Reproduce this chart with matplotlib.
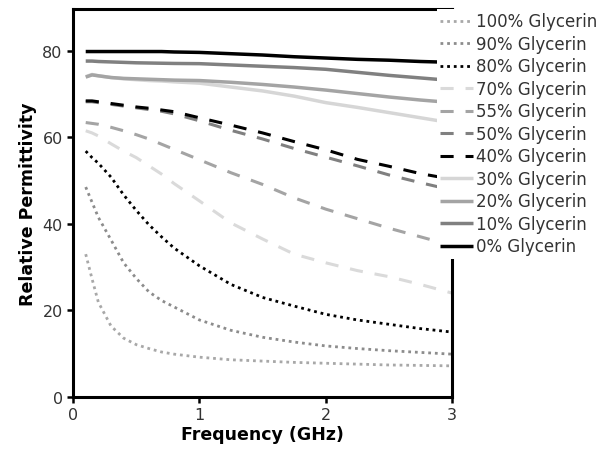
import matplotlib
matplotlib.use("Agg")
import matplotlib.pyplot as plt

FREQ = [0.1, 0.15, 0.2, 0.3, 0.4, 0.5, 0.6, 0.7, 0.8, 1.0, 1.25, 1.5, 1.75, 2.0, 2.25, 2.5, 2.75, 3.0]

LABELS = ["100% Glycerin", "90% Glycerin", "80% Glycerin", "70% Glycerin", "55% Glycerin",
          "50% Glycerin", "40% Glycerin", "30% Glycerin", "20% Glycerin", "10% Glycerin",
          "0% Glycerin"]

G100 = [33.0, 27.3, 21.9, 16.4, 13.6, 12.1, 11.2, 10.4, 9.9, 9.2, 8.6, 8.3, 8.0, 7.8, 7.6, 7.4, 7.3, 7.2]
G90 = [48.5, 45.0, 41.5, 36.3, 31.0, 27.4, 24.3, 22.3, 20.8, 17.8, 15.4, 13.8, 12.7, 11.8, 11.2, 10.7, 10.3, 9.9]
G80 = [56.8, 55.3, 54.0, 50.8, 46.7, 43.1, 39.8, 37.0, 34.4, 30.3, 26.0, 23.0, 21.0, 19.1, 17.8, 16.8, 15.8, 15.0]
G70 = [61.5, 61.0, 60.3, 58.5, 56.8, 55.3, 53.4, 51.5, 49.3, 45.3, 40.2, 36.5, 33.0, 31.0, 29.2, 27.8, 26.0, 24.0]
G55 = [63.4, 63.2, 63.0, 62.3, 61.5, 60.6, 59.6, 58.4, 57.2, 54.8, 51.8, 49.1, 46.0, 43.4, 41.2, 39.0, 37.0, 35.0]
G50 = [68.2, 68.2, 68.0, 67.6, 67.2, 66.8, 66.4, 66.0, 65.4, 63.8, 61.6, 59.6, 57.4, 55.4, 53.4, 51.3, 49.5, 47.8]
G40 = [68.4, 68.4, 68.2, 67.8, 67.4, 67.0, 66.7, 66.3, 65.9, 64.5, 62.8, 61.0, 59.0, 57.1, 54.9, 53.3, 51.6, 50.3]
G30 = [74.0, 74.5, 74.2, 73.8, 73.5, 73.3, 73.1, 73.0, 72.8, 72.5, 71.6, 70.7, 69.5, 68.0, 66.9, 65.7, 64.5, 63.3]
G20 = [73.9, 74.4, 74.2, 73.8, 73.6, 73.5, 73.4, 73.3, 73.2, 73.1, 72.7, 72.2, 71.6, 70.9, 70.1, 69.3, 68.6, 68.0]
G10 = [77.6, 77.6, 77.5, 77.4, 77.3, 77.2, 77.15, 77.1, 77.05, 77.0, 76.7, 76.4, 76.1, 75.7, 75.0, 74.3, 73.7, 73.1]
G0 = [79.8, 79.8, 79.8, 79.8, 79.8, 79.8, 79.8, 79.8, 79.7, 79.6, 79.3, 79.0, 78.6, 78.3, 78.0, 77.8, 77.5, 77.3]

SERIES = [G100, G90, G80, G70, G55, G50, G40, G30, G20, G10, G0]

DOT = (0, (1, 1.4))
DASH = (0, (4.3, 3.9))
STYLES = [
    ("#a8a8a8", DOT, 2.0),
    ("#8c8c8c", DOT, 2.0),
    ("#000000", DOT, 2.0),
    ("#dadada", DASH, 2.2),
    ("#a4a4a4", DASH, 2.2),
    ("#808080", DASH, 2.2),
    ("#000000", DASH, 2.2),
    ("#d6d6d6", "-", 2.5),
    ("#a4a4a4", "-", 2.5),
    ("#808080", "-", 2.5),
    ("#000000", "-", 2.5),
]

fig = plt.figure(figsize=(6.04, 4.64), dpi=100)
ax = fig.add_axes([0.121, 0.1422, 0.6275, 0.836])

for values, label, (color, ls, lw) in zip(SERIES, LABELS, STYLES):
    ax.plot(FREQ, values, color=color, linestyle=ls, linewidth=lw, label=label,
            dash_capstyle="butt", solid_capstyle="butt")

ax.set_xlim(0, 3)
ax.set_ylim(0, 89.6)
ax.set_xticks([0, 1, 2, 3])
ax.set_yticks([0, 20, 40, 60, 80])
for side in ["left", "right", "top", "bottom"]:
    ax.spines[side].set_linewidth(2.2)
ax.tick_params(direction="out", length=4, width=1.8, labelsize=11.5, colors="black",
               labelcolor="#333333")
ax.set_xlabel("Frequency (GHz)", fontsize=12.5, fontweight="bold", labelpad=2)
ax.set_ylabel("Relative Permittivity", fontsize=12.5, fontweight="bold", labelpad=4)

leg = ax.legend(loc="upper left", bbox_to_anchor=(0.96, 1.0), borderaxespad=0,
                frameon=True, fancybox=False, framealpha=1, edgecolor="none",
                facecolor="white", fontsize=12, labelspacing=0.27, handlelength=1.95,
                handletextpad=0.2, borderpad=0.2)
for t in leg.get_texts():
    t.set_color("#333333")

fig.savefig("out.png", dpi=100)
